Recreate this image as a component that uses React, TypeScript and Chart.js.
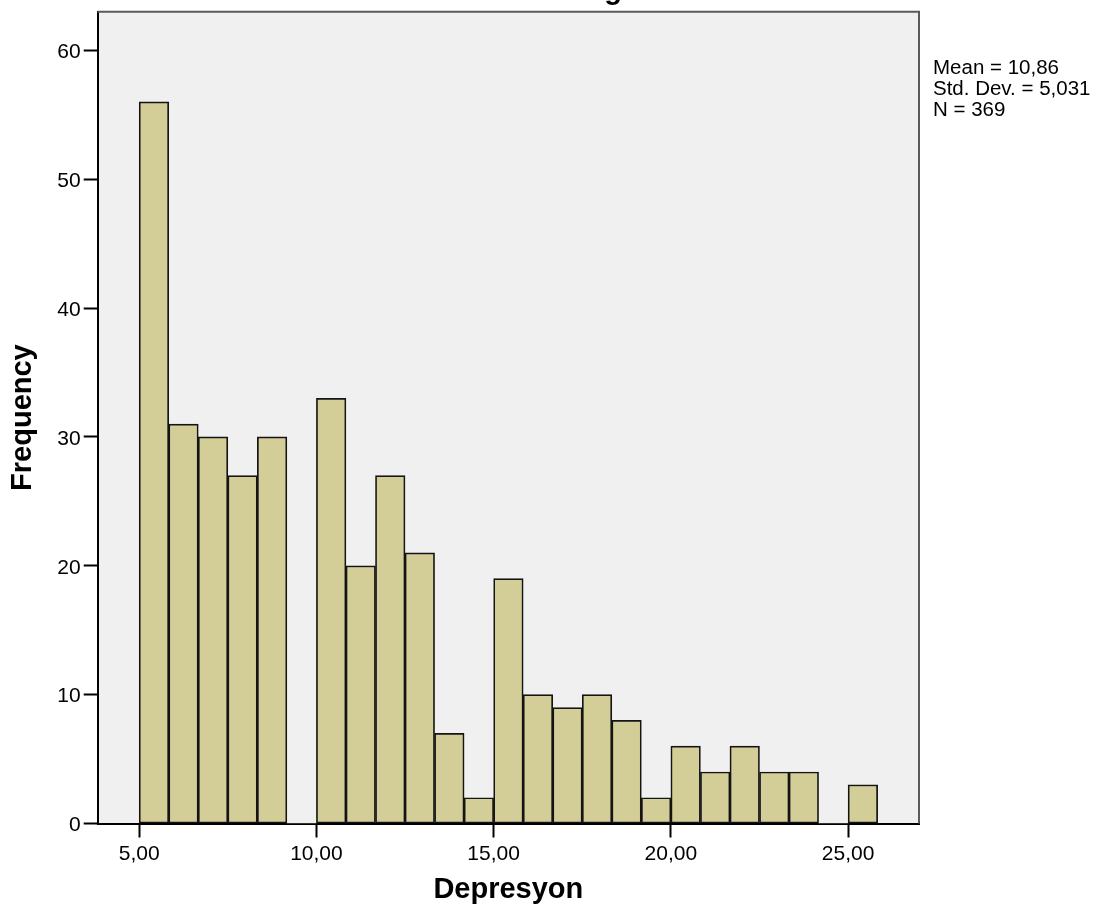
import React, { useEffect, useRef } from 'react';
import { Chart, registerables } from 'chart.js';

Chart.register(...registerables);

const chartTitle = 'Histogram';
const xAxisTitle = 'Depresyon';
const yAxisTitle = 'Frequency';
const binStart = 5;
const binWidth = 5 / 6;
const frequencies = [56, 31, 30, 27, 30, 0, 33, 20, 27, 21, 7, 2, 19, 10, 9, 10, 8, 2, 6, 4, 6, 4, 4, 0, 3];
const xTickValues = [5, 10, 15, 20, 25];
const xTickLabels = ['5,00', '10,00', '15,00', '20,00', '25,00'];
const yTickValues = [0, 10, 20, 30, 40, 50, 60];
const statLines = ['Mean = 10,86', 'Std. Dev. = 5,031', 'N = 369'];

const FONT = "'Liberation Sans', Arial, Helvetica, sans-serif";

export default function App() {
  const ref = useRef<HTMLCanvasElement>(null);

  useEffect(() => {
    const canvas = ref.current;
    if (!canvas) return;
    const points = frequencies.map((f, i) => ({ x: binStart + binWidth * (i + 0.5), y: f }));

    const plotFrame = {
      id: 'plotFrame',
      beforeDraw(chart: any) {
        const { ctx, chartArea: a } = chart;
        ctx.save();
        ctx.fillStyle = '#f0f0f0';
        ctx.fillRect(a.left, a.top, a.right - a.left, a.bottom - a.top);
        ctx.restore();
      },
      afterDraw(chart: any) {
        const { ctx, chartArea: a } = chart;
        ctx.save();
        ctx.strokeStyle = '#5a5a5a';
        ctx.lineWidth = 2;
        ctx.beginPath();
        ctx.moveTo(a.left, a.top);
        ctx.lineTo(a.right, a.top);
        ctx.lineTo(a.right, a.bottom);
        ctx.stroke();

        ctx.fillStyle = '#000';
        ctx.textAlign = 'left';
        ctx.textBaseline = 'alphabetic';
        ctx.font = `20.5px ${FONT}`;
        statLines.forEach((line, i) => {
          ctx.fillText(line, a.right + 14, a.top + 62.3 + i * 21);
        });

        ctx.font = `bold 29px ${FONT}`;
        ctx.textAlign = 'center';
        ctx.fillText(chartTitle, (a.left + chart.width) / 2, -1);
        ctx.restore();
      },
    };

    const chart = new Chart(canvas, {
      type: 'bar',
      data: {
        datasets: [
          {
            data: points,
            backgroundColor: '#d3ce97',
            borderColor: '#141414',
            borderWidth: (c: any) => (c.raw && c.raw.y ? 1.7 : 0),
            borderSkipped: false,
            categoryPercentage: 1,
            barPercentage: 1,
          } as any,
        ],
      },
      options: {
        responsive: false,
        animation: false,
        layout: { padding: { left: 0, top: 11.7, right: 190, bottom: 0 } },
        plugins: {
          legend: { display: false },
          tooltip: { enabled: false },
          title: { display: false },
        },
        scales: {
          x: {
            type: 'linear',
            min: 3.83,
            max: 27.0,
            offset: false,
            afterBuildTicks: (s: any) => {
              s.ticks = xTickValues.map((v) => ({ value: v }));
            },
            afterFit: (s: any) => {
              s.height = 99.5;
              s.paddingLeft = 0;
              s.paddingRight = 0;
            },
            ticks: {
              callback: (v: any) => {
                const i = xTickValues.indexOf(Number(v));
                return i >= 0 ? xTickLabels[i] : '';
              },
              font: { family: FONT, size: 21 },
              color: '#000',
              padding: 4,
              maxRotation: 0,
              autoSkip: false,
            },
            grid: {
              display: true,
              offset: false,
              drawOnChartArea: false,
              drawTicks: true,
              tickLength: 14,
              tickColor: '#000',
              tickWidth: 2,
              color: '#000',
            },
            border: { display: true, color: '#000', width: 2 },
            title: {
              display: true,
              text: xAxisTitle,
              font: { family: FONT, size: 29, weight: 'bold' },
              color: '#000',
              padding: { top: 0, bottom: 16 },
            },
          },
          y: {
            type: 'linear',
            min: 0,
            max: 63,
            afterBuildTicks: (s: any) => {
              s.ticks = yTickValues.map((v) => ({ value: v }));
            },
            afterFit: (s: any) => {
              s.width = 97.7;
              s.paddingTop = 0;
              s.paddingBottom = 0;
            },
            ticks: {
              font: { family: FONT, size: 21 },
              color: '#000',
              padding: 3,
              labelOffset: 2,
              autoSkip: false,
            },
            grid: {
              display: true,
              drawOnChartArea: false,
              drawTicks: true,
              tickLength: 14,
              tickColor: '#000',
              tickWidth: 2,
              color: '#000',
            },
            border: { display: true, color: '#000', width: 2 },
            title: {
              display: true,
              text: yAxisTitle,
              font: { family: FONT, size: 29, weight: 'bold' },
              color: '#000',
              padding: { top: 6, bottom: 0 },
            },
          },
        },
      } as any,
      plugins: [plotFrame],
    });

    return () => chart.destroy();
  }, []);

  return (
    <div style={{ position: 'fixed', left: 0, top: 0, width: 1109, height: 923, background: '#fff' }}>
      <canvas ref={ref} width={1109} height={923} style={{ display: 'block' }} />
    </div>
  );
}
